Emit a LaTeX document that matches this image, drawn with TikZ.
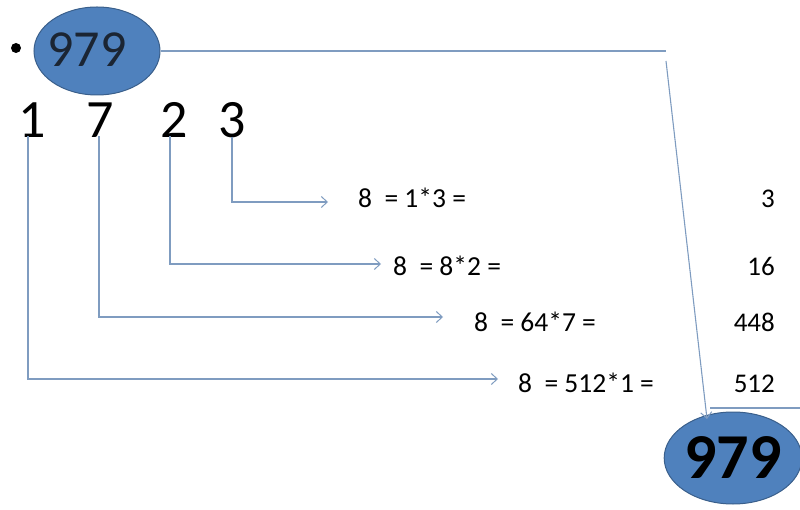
\documentclass[tikz,border=0pt]{standalone}
\usepackage{fontspec}
\setmainfont{Carlito}
\usetikzlibrary{shapes.geometric,arrows.meta}
\definecolor{ellfill}{HTML}{4F81BD}
\definecolor{elldraw}{HTML}{3A5F8B}
\definecolor{conncol}{HTML}{7F9CC0}
\definecolor{darktxt}{HTML}{1B2533}
\tikzset{
  blob/.style={ellipse, fill=ellfill, draw=elldraw, line width=1pt, inner sep=0pt},
  digit/.style={inner sep=0pt, anchor=base, font=\fontsize{54}{54}\selectfont},
  eqn/.style={inner sep=0pt, anchor=base west, font=\fontsize{27.5}{27.5}\selectfont},
  res/.style={inner sep=0pt, anchor=base east, font=\fontsize{27}{27}\selectfont},
  conn/.style={draw=conncol, line width=1.1pt},
  arr/.style={conn, -{Straight Barb[length=6pt,width=11pt,line width=1pt]}}
}
\begin{document}
\begin{tikzpicture}[x=1pt,y=-1pt]
\useasboundingbox (0,0) rectangle (800,510);
% bullet
\fill (16,48) circle (5);
% top ellipse
\node[blob, minimum width=126, minimum height=88] (top) at (97,51) {};
\node[inner sep=0pt, text=darktxt, font=\fontsize{52}{52}\selectfont] (toptxt) at (87,50) {979};
% digits
\node[digit] (d1) at (32,138) {1};
\node[digit] (d7) at (100,138) {7};
\node[digit] (d2) at (174,138) {2};
\node[digit] (d3) at (232,138) {3};
% equations
\node[eqn] (q3) at (358,208) {8\ \ = 1*3 =};
\node[eqn] (q2) at (393,276) {8\ \ = 8*2 =};
\node[eqn] (q7) at (474,332) {8\ \ = 64*7 =};
\node[eqn] (q1) at (518,392) {8\ \ = 512*1 =};
% results
\node[res] (r3) at (775,208) {3};
\node[res] (r2) at (775,276) {16};
\node[res] (r7) at (775,332) {448};
\node[res] (r1) at (775,392) {512};
% bottom ellipse
\node[blob, minimum width=134, minimum height=92, text=black,
      font=\fontsize{64}{64}\selectfont\bfseries] (bot) at (733,458) {979};
% arrow ends
\coordinate (t3) at (328,202);
\coordinate (t2) at (381,264);
\coordinate (t7) at (443,317);
\coordinate (t1) at (498,379);
\draw[arr] ([yshift=2]d3.south) |- (t3);
\draw[arr] ([xshift=-4,yshift=2]d2.south) |- (t2);
\draw[arr] ([xshift=-1,yshift=2]d7.south) |- (t7);
\draw[arr] ([xshift=-4,yshift=2]d1.south) |- (t1);
% top to bottom connector
\coordinate (c1) at (666,51);
\coordinate (c2) at (666,61);
\coordinate (c3) at (707,419);
\draw[conn] (top.east) -- (c1);
\draw[arr] (c2) -- (c3);
\coordinate (h1) at (710,408);
\coordinate (h2) at (800,408);
\draw[conn] (h1) -- (h2);
\end{tikzpicture}
\end{document}
